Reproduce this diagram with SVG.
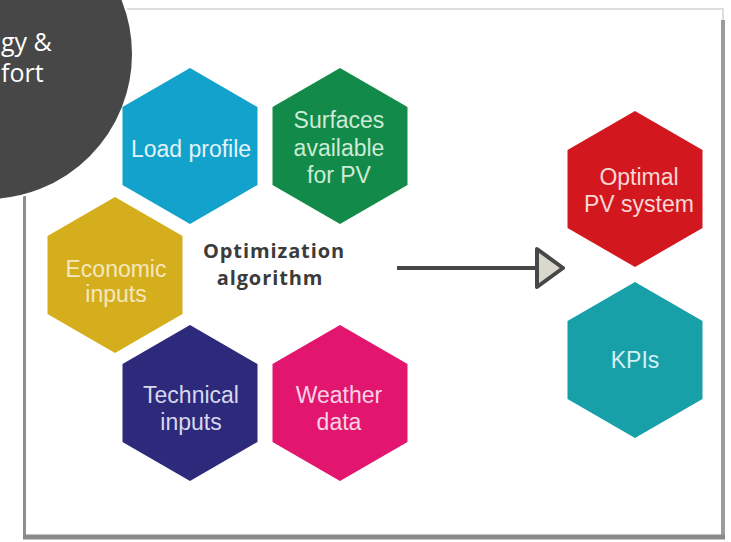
<svg xmlns="http://www.w3.org/2000/svg" width="731" height="542" viewBox="0 0 731 542">
  <defs>
    <polygon id="hex" points="0,-78 67.5,-39 67.5,39 0,78 -67.5,39 -67.5,-39"/>
    <marker id="tri" markerUnits="userSpaceOnUse" markerWidth="40" markerHeight="50" refX="3" refY="21" orient="auto">
      <polygon points="3,2 29,21 3,40" fill="#d9d8cc" stroke="#474747" stroke-width="4" stroke-linejoin="round"/>
    </marker>
  </defs>
  <style>
    .lbl { font-family: "Liberation Sans", Arial, sans-serif; font-size: 23px; text-anchor: middle; }
    .title { font-family: "Open Sans", "DejaVu Sans", sans-serif; font-weight: 700; font-size: 20px; fill: #3b3b3b; text-anchor: middle; letter-spacing: 0.9px; }
    .corner { font-family: "Open Sans", "DejaVu Sans", sans-serif; font-size: 25px; fill: #ffffff; }
  </style>
  <rect width="731" height="542" fill="#ffffff"/>
  <g id="frame">
    <rect x="25" y="9" width="698" height="527" fill="#ffffff" stroke="#d2d2d2" stroke-width="1.5"/>
    <line x1="24.5" y1="100" x2="24.5" y2="537" stroke="#8e8e8e" stroke-width="3"/>
    <line x1="723" y1="20" x2="723" y2="537" stroke="#9c9c9c" stroke-width="4"/>
    <line x1="23" y1="537" x2="725" y2="537" stroke="#8a8a8a" stroke-width="5"/>
  </g>
  <g id="corner-badge">
    <circle cx="-13" cy="54" r="146" fill="#474747" stroke="#ffffff" stroke-width="2"/>
    <text class="corner" x="1" y="51">gy &amp;</text>
    <text class="corner" x="1" y="82">fort</text>
  </g>
  <g id="load-profile">
    <use href="#hex" x="190" y="146" fill="#12a2cb"/>
    <text class="lbl" x="191" y="157" fill="#e3f3f8">Load profile</text>
  </g>
  <g id="surfaces">
    <use href="#hex" x="340" y="146" fill="#128a4a"/>
    <text class="lbl" x="339" y="128" fill="#cdebd6">Surfaces</text>
    <text class="lbl" x="339" y="156" fill="#cdebd6">available</text>
    <text class="lbl" x="339" y="183" fill="#cdebd6">for PV</text>
  </g>
  <g id="economic-inputs">
    <use href="#hex" x="115" y="275" fill="#d5ae1e"/>
    <text class="lbl" x="116" y="277" fill="#f3e8bf">Economic</text>
    <text class="lbl" x="116" y="302" fill="#f3e8bf">inputs</text>
  </g>
  <g id="optimization-algorithm">
    <text class="title" x="274" y="258">Optimization</text>
    <text class="title" x="270" y="285">algorithm</text>
  </g>
  <g id="technical-inputs">
    <use href="#hex" x="190" y="403" fill="#2d2a7c"/>
    <text class="lbl" x="191" y="403" fill="#d8d8ec">Technical</text>
    <text class="lbl" x="191" y="430" fill="#d8d8ec">inputs</text>
  </g>
  <g id="weather-data">
    <use href="#hex" x="340" y="403" fill="#e2166f"/>
    <text class="lbl" x="339" y="403" fill="#f8d3e3">Weather</text>
    <text class="lbl" x="339" y="430" fill="#f8d3e3">data</text>
  </g>
  <g id="optimal-pv-system">
    <use href="#hex" x="635" y="189" fill="#d3171e"/>
    <text class="lbl" x="639" y="185" fill="#f8d6d6">Optimal</text>
    <text class="lbl" x="639" y="212" fill="#f8d6d6">PV system</text>
  </g>
  <g id="kpis">
    <use href="#hex" x="635" y="360" fill="#18a0a9"/>
    <text class="lbl" x="635" y="368" fill="#d5f0f2">KPIs</text>
  </g>
  <g id="connectors">
    <line x1="397" y1="268" x2="537" y2="268" stroke="#474747" stroke-width="4" marker-end="url(#tri)"/>
  </g>
</svg>
